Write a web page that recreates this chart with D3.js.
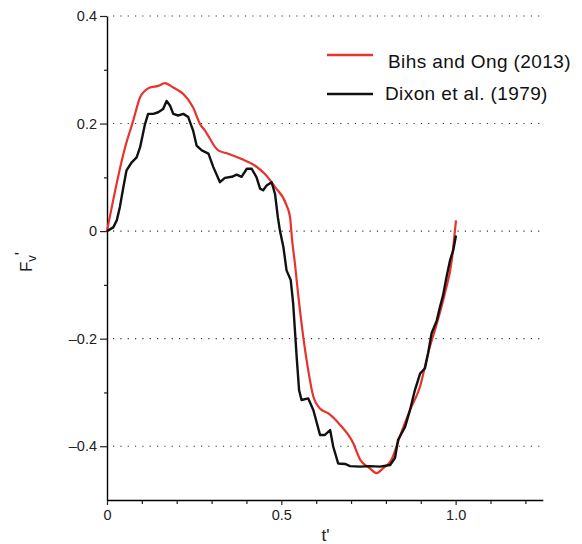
<!DOCTYPE html>
<html>
<head>
<meta charset="utf-8">
<script src="https://cdn.jsdelivr.net/npm/d3@7"></script>
<style>
  body { margin: 0; background: #fff; }
  svg { font-family: "Liberation Sans", Arial, sans-serif; }
</style>
</head>
<body>
<div id="chart"></div>
<script>
// Bihs and Ong (2013) - smooth numerical result
const bihsT = [0, 0.052, 0.075, 0.095, 0.109, 0.123, 0.147, 0.166, 0.19, 0.219, 0.247, 0.267, 0.281, 0.319, 0.348,
  0.386, 0.424, 0.453, 0.482, 0.515, 0.525, 0.531, 0.539, 0.549, 0.563, 0.577, 0.592, 0.611, 0.635, 0.668, 0.706,
  0.726, 0.754, 0.773, 0.792, 0.816, 0.84, 0.869, 0.898, 0.921, 0.946, 0.969, 0.989, 0.998, 1.001];
const bihsF = [0, 0.156, 0.205, 0.249, 0.261, 0.267, 0.27, 0.275, 0.267, 0.255, 0.23, 0.199, 0.187, 0.15, 0.144,
  0.134, 0.122, 0.106, 0.082, 0.048, 0.026, -0.017, -0.06, -0.122, -0.197, -0.258, -0.308, -0.33, -0.339, -0.36, -0.394,
  -0.425, -0.441, -0.45, -0.441, -0.425, -0.382, -0.333, -0.289, -0.227, -0.172, -0.116, -0.054, 0.001, 0.02];

// Dixon et al. (1979) - measured, jagged
const dixonT = [0, 0.018, 0.028, 0.037, 0.047, 0.056, 0.071, 0.085, 0.095, 0.109, 0.118, 0.133, 0.147, 0.161, 0.171,
  0.181, 0.19, 0.204, 0.219, 0.233, 0.247, 0.257, 0.272, 0.291, 0.305, 0.324, 0.338, 0.358, 0.372, 0.386, 0.401,
  0.415, 0.429, 0.439, 0.448, 0.458, 0.472, 0.482, 0.49, 0.496, 0.506, 0.515, 0.527, 0.534, 0.539, 0.544, 0.551,
  0.558, 0.577, 0.592, 0.611, 0.625, 0.64, 0.649, 0.663, 0.683, 0.697, 0.726, 0.754, 0.783, 0.812, 0.826, 0.835,
  0.855, 0.869, 0.883, 0.898, 0.912, 0.921, 0.931, 0.946, 0.955, 0.964, 0.974, 0.984, 0.993, 1.001];
const dixonF = [0, 0.007, 0.02, 0.045, 0.082, 0.113, 0.128, 0.137, 0.156, 0.199, 0.218, 0.218, 0.221, 0.227, 0.242,
  0.233, 0.218, 0.215, 0.218, 0.212, 0.187, 0.159, 0.15, 0.144, 0.119, 0.091, 0.099, 0.101, 0.105, 0.101, 0.116,
  0.116, 0.1, 0.079, 0.076, 0.085, 0.091, 0.069, 0.026, 0.001, -0.03, -0.073, -0.091, -0.135, -0.184, -0.234, -0.296,
  -0.314, -0.311, -0.333, -0.379, -0.379, -0.37, -0.401, -0.432, -0.433, -0.437, -0.438, -0.437, -0.438, -0.435, -0.422, -0.388,
  -0.364, -0.333, -0.296, -0.265, -0.255, -0.227, -0.19, -0.166, -0.141, -0.119, -0.085, -0.054, -0.036, -0.008];

const xMajor = [0, 0.5, 1.0];
const xMinor = [0.1, 0.2, 0.3, 0.4, 0.6, 0.7, 0.8, 0.9, 1.1, 1.2];
const yMajor = [-0.4, -0.2, 0, 0.2, 0.4];
const yMinor = [-0.3, -0.1, 0.1, 0.3];
const legendNames = ["Bihs and Ong (2013)", "Dixon et al. (1979)"];
const colors = ["#e8322b", "#111"];

const width = 582, height = 544;
const mLeft = 107, mRight = 542.8, mTop = 16, mBottom = 500;

const svg = d3.select("#chart").append("svg")
  .attr("width", width)
  .attr("height", height);

const x = d3.scaleLinear().domain([0, 1.25]).range([mLeft, mRight]);
const y = d3.scaleLinear().domain([-0.5, 0.4]).range([mBottom, mTop]);

// dotted grid
svg.append("g").selectAll("line")
  .data(yMajor)
  .enter().append("line")
  .attr("x1", mLeft + 6).attr("x2", 541)
  .attr("y1", d => y(d)).attr("y2", d => y(d))
  .attr("stroke", "#333")
  .attr("stroke-width", 1.1)
  .attr("stroke-dasharray", "1.2 6.13");

const fmt = d => d === 0 ? "0" : d3.format(".1f")(d).replace("−", "–").replace("-", "–");

// x axis
const gx = svg.append("g").attr("transform", `translate(0,${mBottom})`);
gx.call(d3.axisBottom(x).tickValues(xMinor).tickSize(4).tickFormat(""));
gx.call(g => g.select(".domain").remove());
const gx2 = svg.append("g").attr("transform", `translate(0,${mBottom})`)
  .call(d3.axisBottom(x).tickValues(xMajor).tickSize(5).tickSizeOuter(0)
    .tickFormat(d => d === 0 ? "0" : d3.format(".1f")(d)));
gx2.select(".domain").attr("stroke-width", 1.4);

// y axis
const gy = svg.append("g").attr("transform", `translate(${mLeft},0)`);
gy.call(d3.axisLeft(y).tickValues(yMinor).tickSize(3).tickFormat(""));
gy.call(g => g.select(".domain").remove());
const gy2 = svg.append("g").attr("transform", `translate(${mLeft},0)`)
  .call(d3.axisLeft(y).tickValues(yMajor).tickSize(7).tickSizeOuter(0).tickPadding(3).tickFormat(fmt));
gy2.select(".domain").attr("stroke-width", 1.4);

svg.selectAll(".tick line").attr("stroke", "#222").attr("stroke-width", 1.2);
svg.selectAll(".tick text")
  .attr("font-family", "'Liberation Sans', Arial, sans-serif")
  .attr("font-size", 14.5)
  .attr("fill", "#222");
gx2.selectAll(".tick text").attr("dy", "0.95em").attr("y", 6);

// curves
const bihs = bihsT.map((t, i) => [t, bihsF[i]]);
const dixon = dixonT.map((t, i) => [t, dixonF[i]]);

const smooth = d3.line().x(d => x(d[0])).y(d => y(d[1])).curve(d3.curveMonotoneX);
const jagged = d3.line().x(d => x(d[0])).y(d => y(d[1])).curve(d3.curveLinear);

svg.append("path")
  .datum(bihs)
  .attr("d", smooth)
  .attr("fill", "none")
  .attr("stroke", colors[0])
  .attr("stroke-width", 2.2);

svg.append("path")
  .datum(dixon)
  .attr("d", jagged)
  .attr("fill", "none")
  .attr("stroke", colors[1])
  .attr("stroke-width", 2.4)
  .attr("stroke-linejoin", "round");

// axis titles
svg.append("text")
  .attr("x", 325.5).attr("y", 541)
  .attr("text-anchor", "middle")
  .attr("font-size", 17)
  .attr("fill", "#222")
  .text("t'");

const yl = svg.append("text")
  .attr("transform", "translate(32,262) rotate(-90)")
  .attr("text-anchor", "middle")
  .attr("font-size", 17)
  .attr("fill", "#222");
yl.append("tspan").text("F");
yl.append("tspan").attr("font-size", 13).attr("dy", 4).text("v");
yl.append("tspan").attr("dy", -9).text("'");

// legend
const legendY = [55, 94];
const legendTextX = [388, 385];
const legendBase = [67.5, 99.5];
const lg = svg.append("g");
legendNames.forEach((name, i) => {
  lg.append("line")
    .attr("x1", 327).attr("x2", 373)
    .attr("y1", legendY[i]).attr("y2", legendY[i])
    .attr("stroke", colors[i])
    .attr("stroke-width", 2.6);
  lg.append("text")
    .attr("x", legendTextX[i]).attr("y", legendBase[i])
    .attr("font-size", 19)
    .attr("letter-spacing", 0.4)
    .attr("fill", "#111")
    .text(name);
});
</script>
</body>
</html>
